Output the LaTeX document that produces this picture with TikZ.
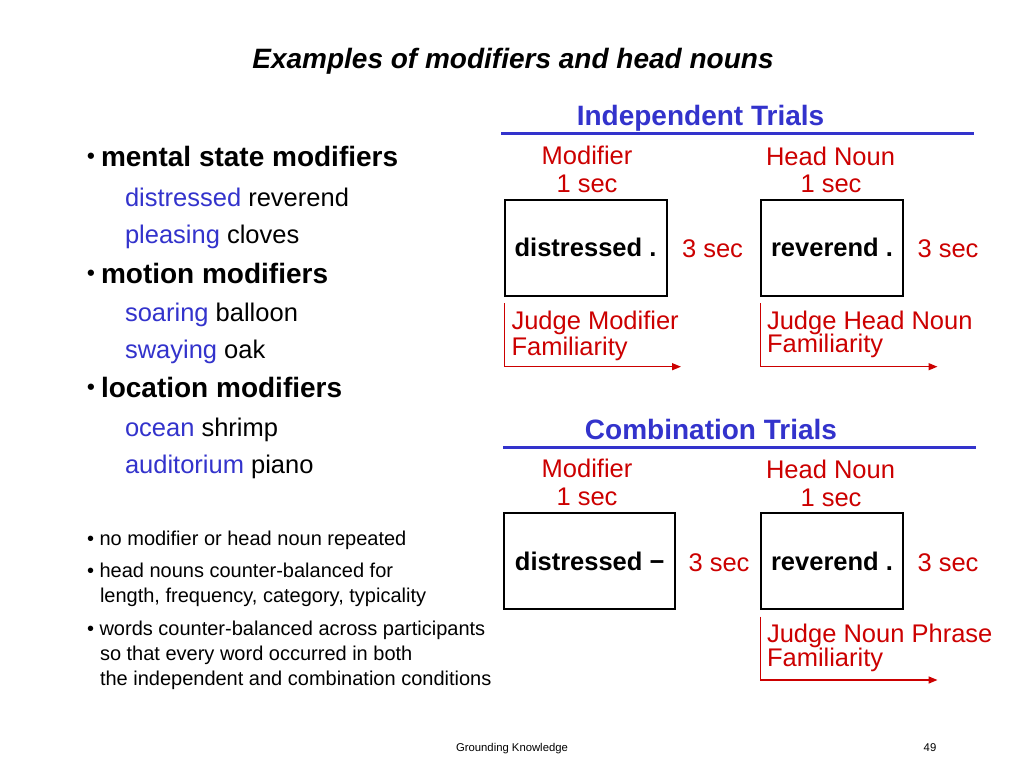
\documentclass[tikz,border=0pt]{standalone}
\usepackage{fontspec}
\setmainfont{Liberation Sans}
\usetikzlibrary{arrows.meta}
\definecolor{tblue}{HTML}{3333CC}
\definecolor{tred}{HTML}{CC0000}
\begin{document}
\begin{tikzpicture}[x=1pt,y=-1pt,
  every node/.style={inner sep=0pt, outer sep=0pt},
  lw/.style={anchor=base west},
  cw/.style={anchor=base},
  ttl/.style={font=\fontsize{28}{32}\selectfont\bfseries\itshape},
  hd/.style={font=\fontsize{28}{32}\selectfont\bfseries},
  bul/.style={font=\fontsize{22}{26}\selectfont\bfseries},
  sub/.style={font=\fontsize{25.5}{30}\selectfont},
  small/.style={font=\fontsize{20}{24}\selectfont},
  foot/.style={font=\fontsize{11.3}{13}\selectfont},
  sect/.style={font=\fontsize{28}{32}\selectfont\bfseries, text=tblue},
  rlab/.style={font=\fontsize{25.5}{30}\selectfont, text=tred},
  wbox/.style={draw=black, line width=2pt, minimum height=96pt, font=\fontsize{25.5}{30}\selectfont\bfseries},
  sectline/.style={draw=tblue, line width=2.7pt},
  judge/.style={draw=tred, line width=1.5pt, -{Triangle[length=9pt,width=7pt]}}
]
\useasboundingbox[fill=white] (0,0) rectangle (1024,768);

% title
\node[ttl, cw] (title) at (513,68) {Examples of modifiers and head nouns};

% left column
\node[bul, lw] (b1) at (87,163) {•};
\node[hd, lw] (h1) at (101,166) {mental state modifiers};
\node[sub, lw] (s1) at (125,206) {\textcolor{tblue}{distressed} reverend};
\node[sub, lw] (s2) at (125,243) {\textcolor{tblue}{pleasing} cloves};
\node[bul, lw] (b2) at (87,280) {•};
\node[hd, lw] (h2) at (101,283) {motion modifiers};
\node[sub, lw] (s3) at (125,321) {\textcolor{tblue}{soaring} balloon};
\node[sub, lw] (s4) at (125,358) {\textcolor{tblue}{swaying} oak};
\node[bul, lw] (b3) at (87,394) {•};
\node[hd, lw] (h3) at (101,397) {location modifiers};
\node[sub, lw] (s5) at (125,436) {\textcolor{tblue}{ocean} shrimp};
\node[sub, lw] (s6) at (125,473) {\textcolor{tblue}{auditorium} piano};

\node[small, lw] (n1) at (87,545) {• no modifier or head noun repeated};
\node[small, lw] (n2) at (87,577) {• head nouns counter-balanced for};
\node[small, lw] (n2b) at (100,602) {length, frequency, category, typicality};
\node[small, lw] (n3) at (87,635) {• words counter-balanced across participants};
\node[small, lw] (n3b) at (100,660) {so that every word occurred in both};
\node[small, lw] (n3c) at (100,685) {the independent and combination conditions};

% footer
\node[foot, cw] (ft) at (512,751) {Grounding Knowledge};
\node[foot, cw] (pg) at (930,751) {49};

% Independent trials
\node[sect, cw] (it) at (700.5,125) {Independent Trials};
\coordinate (il1) at (501,133.3);
\coordinate (il2) at (974,133.3);
\draw[sectline] (il1) -- (il2);
\node[rlab, cw] (m1) at (587,164) {Modifier};
\node[rlab, cw] (m1s) at (587,192) {1 sec};
\node[rlab, cw] (hn1) at (830.5,165) {Head Noun};
\node[rlab, cw] (hn1s) at (831,192.5) {1 sec};
\node[wbox, minimum width=162pt] (box1) at (585.5,247.8) {distressed .};
\node[rlab, cw] (t1) at (712.5,257.5) {3 sec};
\node[wbox, minimum width=142.6pt] (box2) at (832,247.5) {reverend .};
\node[rlab, cw] (t2) at (948,257.5) {3 sec};
\coordinate (j1s) at (504.3,303);
\coordinate (j1e) at (681,366.7);
\draw[judge] (j1s) |- (j1e);
\node[rlab, lw] (j1a) at (511.5,329) {Judge Modifier};
\node[rlab, lw] (j1b) at (511.5,355) {Familiarity};
\coordinate (j2s) at (760.7,303);
\coordinate (j2e) at (937.5,366.7);
\draw[judge] (j2s) |- (j2e);
\node[rlab, lw] (j2a) at (767,329) {Judge Head Noun};
\node[rlab, lw] (j2b) at (767,352.7) {Familiarity};

% Combination trials
\node[sect, cw] (ct) at (711,439.3) {Combination Trials};
\coordinate (cl1) at (503,447.3);
\coordinate (cl2) at (976,447.3);
\draw[sectline] (cl1) -- (cl2);
\node[rlab, cw] (m2) at (587,477.3) {Modifier};
\node[rlab, cw] (m2s) at (587,505) {1 sec};
\node[rlab, cw] (hn2) at (830.5,478.3) {Head Noun};
\node[rlab, cw] (hn2s) at (831,506) {1 sec};
\node[wbox, minimum width=170.7pt] (box3) at (589.7,561.3) {distressed −};
\node[rlab, cw] (t3) at (719,571) {3 sec};
\node[wbox, minimum width=142.6pt] (box4) at (832,561) {reverend .};
\node[rlab, cw] (t4) at (948,571) {3 sec};
\coordinate (j3s) at (760.7,616.7);
\coordinate (j3e) at (937.5,680);
\draw[judge] (j3s) |- (j3e);
\node[rlab, lw] (j3a) at (767,642.7) {Judge Noun Phrase};
\node[rlab, lw] (j3b) at (767,666.7) {Familiarity};
\end{tikzpicture}
\end{document}
